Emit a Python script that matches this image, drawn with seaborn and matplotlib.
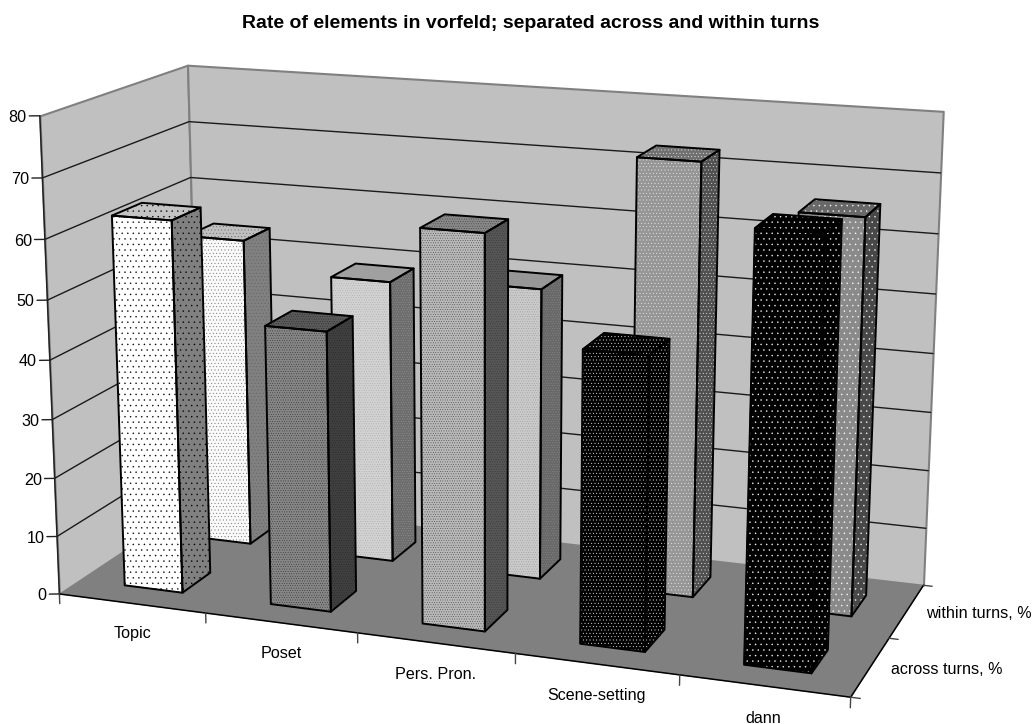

import numpy as np
import matplotlib
matplotlib.use('Agg')
import matplotlib.pyplot as plt
import matplotlib.hatch as mhatch
import seaborn as sns
from mpl_toolkits.mplot3d import proj3d
from mpl_toolkits.mplot3d.art3d import Poly3DCollection

categories = ['Topic', 'Poset', 'Pers. Pron.', 'Scene-setting', 'dann']
series_names = ['across turns, %', 'within turns, %']
across_turns = [63, 47, 65, 48, 69]
within_turns = [54, 49, 50, 73, 66]
z_ticks = [0, 10, 20, 30, 40, 50, 60, 70, 80]
title = 'Rate of elements in vorfeld; separated across and within turns'

# (front, top, side) fill, dot colour, dot hatch for each bar
across_style = [(('#ffffff', '#c4c4c4', '#808080'), '#000000', '...'),
                (('#868686', '#5a5a5a', '#404040'), '#202020', '.......'),
                (('#b8b8b8', '#888888', '#565656'), '#303030', '.......'),
                (('#000000', '#000000', '#000000'), '#ffffff', '.....'),
                (('#000000', '#000000', '#000000'), '#ffffff', '...')]
within_style = [(('#fafafa', '#c0c0c0', '#808080'), '#606060', '.....'),
                (('#d2d2d2', '#a0a0a0', '#6c6c6c'), '#a0a0a0', '.......'),
                (('#cacaca', '#989898', '#686868'), '#909090', '.......'),
                (('#969696', '#707070', '#505050'), '#f0f0f0', '.....'),
                (('#8a8a8a', '#686868', '#484848'), '#ffffff', '...')]

sns.set_theme(style='white')
plt.rcParams['font.family'] = ['Liberation Sans', 'DejaVu Sans']
plt.rcParams['hatch.linewidth'] = 0.2
mhatch.SmallFilledCircles.size = 0.11

W, H = 1034, 724
fig = plt.figure(figsize=(W / 100, H / 100), dpi=100, facecolor='white')
left, top_offset, side = -10.7769, 861.2164, 982.1419
ax = fig.add_axes([left / W, (H - top_offset) / H, side / W, side / H], projection='3d',
                  computed_zorder=False)
ax.set_xlim(0, 5, view_margin=0)
ax.set_ylim(0, 2, view_margin=0)
ax.set_zlim(0, 80, view_margin=0)
ax.set_xticks([])
ax.set_yticks([])
ax.set_zticks([])
ax.view_init(elev=14.9828, azim=-70.0519, roll=-0.038)
ax.set_proj_type('persp', focal_length=0.5392)
ax.set_box_aspect((1.6663, 0.6654, 1))
ax.set_axis_off()

CLEAR = (0, 0, 0, 0)

def face(verts, fc, ec=CLEAR, lw=0.0, hatch=None, z=1):
    p = Poly3DCollection([verts], facecolors=fc, edgecolors=ec, linewidths=lw, hatch=hatch,
                         zorder=z, closed=True)
    ax.add_collection3d(p, autolim=False)

def label(x, y, z, s, **kw):
    X, Y, _ = proj3d.proj_transform(x, y, z, ax.get_proj())
    ax.text2D(float(X), float(Y), s, transform=ax.transData, fontsize=11.6, color='black', va='center', **kw)

GREY = '#808080'
# walls and floor
face([(0, 0, 0), (0, 2, 0), (0, 2, 80), (0, 0, 80)], '#c0c0c0', GREY, 1.5, z=1)
face([(0, 2, 0), (5, 2, 0), (5, 2, 80), (0, 2, 80)], '#c0c0c0', GREY, 1.5, z=1)
face([(0, 0, 0), (5, 0, 0), (5, 2, 0), (0, 2, 0)], '#808080', z=2)

# gridlines
for v in z_ticks[1:-1]:
    ax.plot([0, 0, 5], [0, 2, 2], [v, v, v], color='#1a1a1a', lw=1.0, zorder=3)

# axis lines and ticks
ax.plot([0, 0], [0, 0], [0, 80], color='#222222', lw=1.1, zorder=4)
ax.plot([0, 5, 5], [0, 0, 2], [0, 0, 0], color='black', lw=1.1, zorder=4)
for v in z_ticks:
    ax.plot([0, -0.0572], [0, -0.0239], [v, v], color='#222222', lw=1.0, zorder=4)
    label(-0.072, -0.03, v - 0.25, str(v), ha='right')
for i in range(len(categories) + 1):
    ax.plot([i, i], [0, 0], [0, -1.7], color='#444444', lw=1.0, zorder=4)
for i in range(3):
    ax.plot([5, 5.055], [i, i], [0, 0], color='#444444', lw=1.0, zorder=4)
for i, c in enumerate(categories):
    label(i + 0.5, 0, -5.25, c, ha='center')
for i, s in enumerate(series_names):
    label(5.12, i + 0.5, 0.0, s, ha='left')

def bar(i, y0, value, style, z):
    (fc_front, fc_top, fc_side), dot, hatch = style
    x0, x1 = i + 0.3, i + 0.7
    y1 = y0 + 0.4
    front = [(x0, y0, 0), (x1, y0, 0), (x1, y0, value), (x0, y0, value)]
    sidef = [(x1, y0, 0), (x1, y1, 0), (x1, y1, value), (x1, y0, value)]
    topf = [(x0, y0, value), (x1, y0, value), (x1, y1, value), (x0, y1, value)]
    for verts, fc in ((front, fc_front), (sidef, fc_side), (topf, fc_top)):
        face(verts, fc, dot, 0.0, hatch, z)
        face(verts, CLEAR, 'black', 1.4, None, z + 0.5)

z = 10
for row, (vals, styles) in [(1.3, (within_turns, within_style)), (0.29, (across_turns, across_style))]:
    for i, (v, st) in enumerate(zip(vals, styles)):
        bar(i, row, v, st, z)
        z += 1

fig.text(531 / W, 1 - 23 / H, title, ha='center', va='center', fontsize=14, fontweight='bold', color='black')
fig.savefig('out.png', dpi=100, facecolor='white')
